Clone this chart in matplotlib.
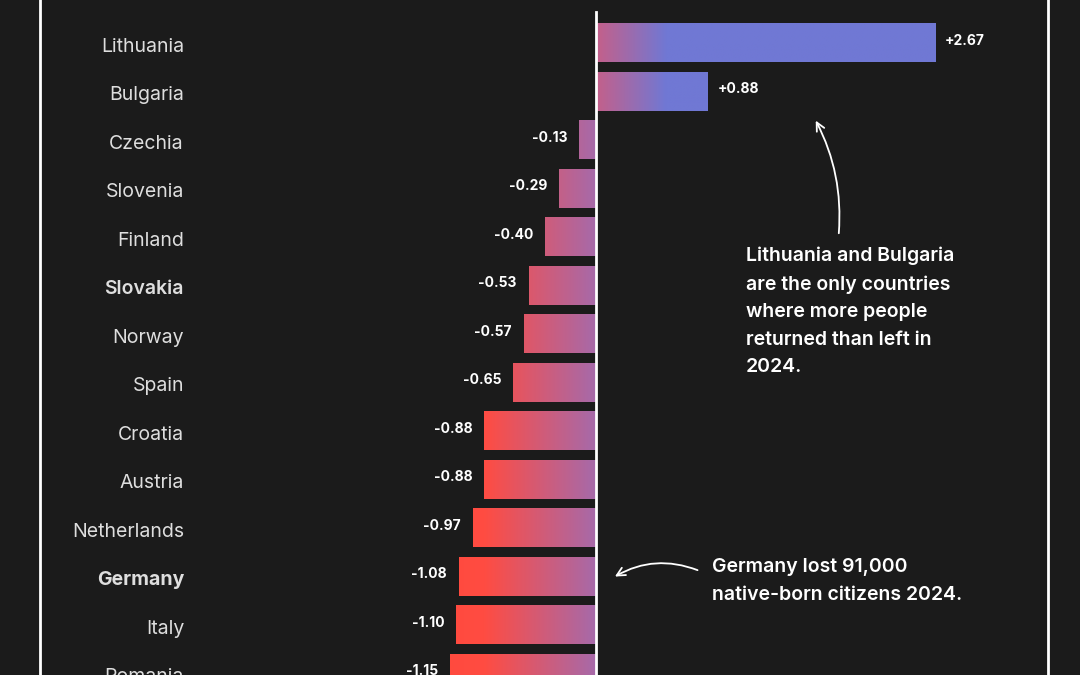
import matplotlib
matplotlib.use("Agg")
import matplotlib.pyplot as plt
import numpy as np

plt.rcParams['font.family'] = ['Inter', 'DejaVu Sans']

countries = ['Lithuania', 'Bulgaria', 'Czechia', 'Slovenia', 'Finland', 'Slovakia', 'Norway',
             'Spain', 'Croatia', 'Austria', 'Netherlands', 'Germany', 'Italy', 'Romania']
values = [2.67, 0.88, -0.13, -0.29, -0.40, -0.53, -0.57, -0.65, -0.88, -0.88, -0.97, -1.08, -1.10, -1.15]
label_weights = {'Slovakia': 'semibold', 'Germany': 'bold'}

BG = '#1b1b1b'
PX_PER_UNIT = 127.0
ZERO_PX = 596
ROW0_PX = 43
ROW_PX = 48.5


def hex2rgb(h):
    return np.array([int(h[i:i + 2], 16) / 255 for i in (1, 3, 5)])


neg_stops = ([-1.2, -0.88, 0.0], [hex2rgb('#ff4a3e'), hex2rgb('#ff4c42'), hex2rgb('#a66aaa')])
pos_stops = ([0.0, 0.55, 3.0], [hex2rgb('#c4608a'), hex2rgb('#7078d4'), hex2rgb('#7078d4')])


def grad_colors(xs):
    out = np.zeros((len(xs), 3))
    for stops, mask in ((neg_stops, xs <= 0), (pos_stops, xs > 0)):
        px, cols = stops
        cols = np.array(cols)
        for c in range(3):
            vals = np.interp(xs, px, cols[:, c])
            out[mask, c] = vals[mask]
    return out


fig = plt.figure(figsize=(10.8, 6.75), dpi=100, facecolor=BG)
ax = fig.add_axes([40 / 1080, 0, (1048 - 40) / 1080, 1])
ax.set_facecolor(BG)
ax.set_xlim((40 - ZERO_PX) / PX_PER_UNIT, (1048 - ZERO_PX) / PX_PER_UNIT)
ax.set_ylim((675 - ROW0_PX) / ROW_PX, -ROW0_PX / ROW_PX)

h = 0.8
for i, (name, v) in enumerate(zip(countries, values)):
    x0, x1 = min(0, v), max(0, v)
    xs = np.linspace(x0, x1, 200)
    img = grad_colors(xs)[np.newaxis, :, :]
    ax.imshow(img, extent=[x0, x1, i + h / 2, i - h / 2], aspect='auto', interpolation='bilinear', zorder=2)
    if v < 0:
        ax.text(v - 0.094, i - 0.05, f'{v:.2f}', ha='right', va='center', color='white',
                fontsize=10, fontweight='bold')
    else:
        ax.text(v + 0.08, i - 0.05, f'+{v:.2f}', ha='left', va='center', color='white',
                fontsize=10, fontweight='bold')
    ax.text((184 - ZERO_PX) / PX_PER_UNIT, i + 0.08, name, ha='right', va='center',
            color='#dedede', fontsize=14, fontweight=label_weights.get(name, 'normal'))

ax.axvline(0, ymin=0, ymax=1 - 12 / 675, color='white', lw=2, zorder=3)

ax.set_xticks([])
ax.set_yticks([])
for s in ['top', 'bottom']:
    ax.spines[s].set_visible(False)
for s in ['left', 'right']:
    ax.spines[s].set_color('white')
    ax.spines[s].set_linewidth(2)

# annotations
ax.annotate('', xy=(1.72, 1.55), xytext=(1.91, 3.98),
            arrowprops=dict(arrowstyle='->,head_length=0.6,head_width=0.3', color='white', lw=1.3,
                            connectionstyle='arc3,rad=0.15'))
ax.text(1.18, 4.2, 'Lithuania and Bulgaria\nare the only countries\nwhere more people\nreturned than left in\n2024.',
        ha='left', va='top', color='white', fontsize=14, fontweight='semibold', linespacing=1.68)

ax.annotate('', xy=(0.13, 11.03), xytext=(0.82, 10.89),
            arrowprops=dict(arrowstyle='->,head_length=0.6,head_width=0.3', color='white', lw=1.3,
                            connectionstyle='arc3,rad=0.25'))
ax.text(0.913, 10.62, 'Germany lost 91,000\nnative-born citizens 2024.',
        ha='left', va='top', color='white', fontsize=14, fontweight='semibold', linespacing=1.68)

fig.savefig('out.png', dpi=100, facecolor=BG)
